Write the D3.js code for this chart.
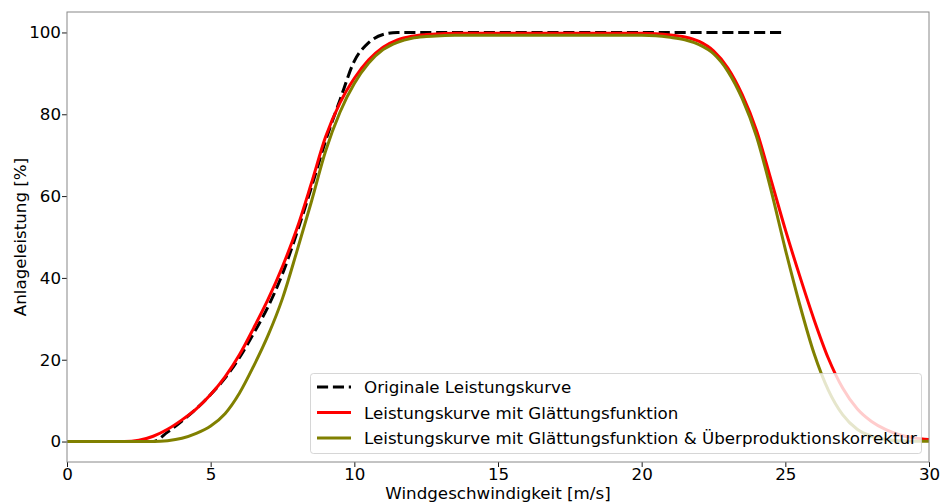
<!DOCTYPE html>
<html>
<head>
<meta charset="utf-8">
<script src="https://cdn.jsdelivr.net/npm/d3@7"></script>
<style>
  body { margin: 0; background: #fff; }
  svg { font-family: "DejaVu Sans", sans-serif; }
</style>
</head>
<body>
<svg width="940" height="502"></svg>
<script>
// wind speeds in 0.5 m/s steps
var speeds = d3.range(0, 30.01, 0.5);

// original power curve, 0 .. 25 m/s
var originalValues = [0, 0, 0, 0, 0, 0, 0, 2.3, 5.0, 8.0, 11.5, 15.5, 20.5, 26.5, 33, 41, 51, 62, 73.5, 83.5,
  93, 97.5, 99.5, 100, 100, 100, 100, 100, 100, 100, 100, 100, 100, 100, 100, 100, 100, 100, 100, 100,
  100, 100, 100, 100, 100, 100, 100, 100, 100, 100, 100];

// smoothed power curve, 0 .. 30 m/s
var smoothValues = [0, 0, 0, 0, 0, 0.3, 1.3, 3.0, 5.3, 8.0, 11.5, 15.8, 21.2, 27.8, 34.8, 42.8, 52.0, 63.0, 74.5, 82.8,
  88.8, 93.3, 96.4, 98.2, 99.1, 99.5, 99.7, 99.8, 99.8, 99.8, 99.8, 99.8, 99.8, 99.8, 99.8, 99.8, 99.8, 99.8, 99.8, 99.8,
  99.8, 99.7, 99.4, 98.9, 97.8, 95.5, 91.3, 84.8, 76.0, 64.0, 51.8, 40.5, 29.8, 20.3, 13.0, 8.0, 4.9, 2.9, 1.6, 0.9, 0.5];

// smoothed + overproduction correction, 0 .. 30 m/s
var correctedValues = [0, 0, 0, 0, 0, 0, 0, 0.2, 0.8, 2.0, 3.8, 6.8, 11.8, 18.5, 26, 35, 46.5, 58.5, 71, 80.5,
  87.5, 92.5, 95.8, 97.6, 98.6, 99.0, 99.2, 99.3, 99.3, 99.3, 99.3, 99.3, 99.3, 99.3, 99.3, 99.3, 99.3, 99.3, 99.3, 99.3,
  99.3, 99.2, 98.8, 98.2, 97.0, 94.8, 90.5, 83.8, 74.5, 61.5, 47.0, 33.5, 21.5, 12.5, 6.5, 3.0, 1.3, 0.5, 0.2, 0.1, 0.1];

var xTicks = [0, 5, 10, 15, 20, 25, 30];
var yTicks = [0, 20, 40, 60, 80, 100];
var legendLabels = ["Originale Leistungskurve", "Leistungskurve mit Glättungsfunktion",
  "Leistungskurve mit Glättungsfunktion & Überproduktionskorrektur"];

var svg = d3.select("svg");
var plotLeft = 67, plotRight = 929, plotTop = 12, plotBottom = 462;
var fs = 16.7;

var x = d3.scaleLinear().domain([0, 30]).range([plotLeft, plotRight]);
var y = d3.scaleLinear().domain([-5, 105]).range([plotBottom, plotTop]);

var line = d3.line()
  .x(function (d) { return x(d[0]); })
  .y(function (d) { return y(d[1]); })
  .curve(d3.curveMonotoneX);

function pairs(values) {
  return values.map(function (v, i) { return [speeds[i], v]; });
}

var series = [
  { data: pairs(originalValues), color: "#000000", dash: "11.1,4.8" },
  { data: pairs(smoothValues), color: "#ff0000", dash: null },
  { data: pairs(correctedValues), color: "#808000", dash: null }
];

svg.append("clipPath").attr("id", "clip")
  .append("rect").attr("x", plotLeft).attr("y", plotTop)
  .attr("width", plotRight - plotLeft).attr("height", plotBottom - plotTop);

var plot = svg.append("g").attr("clip-path", "url(#clip)");
series.forEach(function (s) {
  plot.append("path")
    .attr("d", line(s.data))
    .attr("fill", "none")
    .attr("stroke", s.color)
    .attr("stroke-width", 3)
    .attr("stroke-dasharray", s.dash);
});

// axes
var xAxis = svg.append("g").attr("transform", "translate(0," + plotBottom + ")")
  .call(d3.axisBottom(x).tickValues(xTicks).tickSize(5).tickPadding(1).tickFormat(d3.format("d")));
var yAxis = svg.append("g").attr("transform", "translate(" + plotLeft + ",0)")
  .call(d3.axisLeft(y).tickValues(yTicks).tickSize(5).tickPadding(1).tickFormat(d3.format("d")));

[xAxis, yAxis].forEach(function (a) {
  a.select(".domain").remove();
  a.selectAll("line").attr("stroke", "#000").attr("stroke-width", 0.9);
  a.selectAll("text").attr("font-size", fs).attr("font-family", "DejaVu Sans").attr("fill", "#000");
});

// frame
svg.append("rect")
  .attr("x", plotLeft).attr("y", plotTop)
  .attr("width", plotRight - plotLeft).attr("height", plotBottom - plotTop)
  .attr("fill", "none").attr("stroke", "#888").attr("stroke-width", 1);

svg.append("text")
  .attr("x", (plotLeft + plotRight) / 2).attr("y", 499)
  .attr("text-anchor", "middle").attr("font-size", fs)
  .text("Windgeschwindigkeit [m/s]");

svg.append("text")
  .attr("transform", "translate(26," + (plotTop + plotBottom) / 2 + ") rotate(-90)")
  .attr("text-anchor", "middle").attr("font-size", fs)
  .text("Anlageleistung [%]");

// legend
var legend = svg.append("g");
legend.append("rect")
  .attr("x", 310.5).attr("y", 373.5).attr("width", 611).attr("height", 80)
  .attr("rx", 3).attr("fill", "#fff").attr("fill-opacity", 0.8)
  .attr("stroke", "#ccc").attr("stroke-opacity", 0.8);

legendLabels.forEach(function (label, i) {
  var cy = 387 + i * 25.5;
  legend.append("line")
    .attr("x1", 317).attr("x2", 351).attr("y1", cy).attr("y2", cy)
    .attr("stroke", series[i].color).attr("stroke-width", 3)
    .attr("stroke-dasharray", series[i].dash);
  legend.append("text")
    .attr("x", 364).attr("y", cy + 6)
    .attr("font-size", fs)
    .text(label);
});
</script>
</body>
</html>
